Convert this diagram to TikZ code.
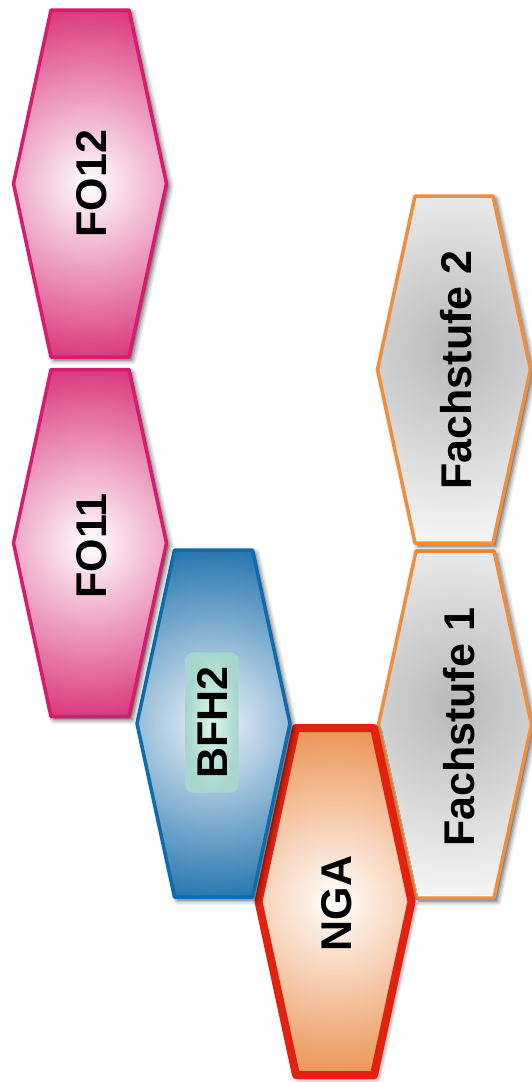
\documentclass[tikz,border=0pt]{standalone}
\usepackage{fontspec}
\setmainfont{Liberation Sans}
\usetikzlibrary{shadows.blur}
\definecolor{pinkline}{HTML}{D81B6E}
\definecolor{pinkout}{HTML}{DA3A7E}
\definecolor{pinkin}{HTML}{FFFFFF}
\definecolor{blueline}{HTML}{0B6DAD}
\definecolor{blueout}{HTML}{2877AF}
\definecolor{bluein}{HTML}{EEF3F9}
\definecolor{redline}{HTML}{E2220E}
\definecolor{orangeout}{HTML}{EB9556}
\definecolor{orangein}{HTML}{FFFFFF}
\definecolor{orangeline}{HTML}{EE8E3E}
\definecolor{grayin}{HTML}{B8B8B8}
\definecolor{grayout}{HTML}{F4F4F4}
\definecolor{tealin}{HTML}{DDF5EA}
\definecolor{tealout}{HTML}{A6D6CE}
% #1 cx, #2 cy, #3 inner colour, #4 outer colour, #5 outline style, #6 shading radius, #7 shading centre shift
\newcommand{\hexshape}[7]{%
  \path[hexshadow] (#1-39,#2-173.5) -- (#1+39,#2-173.5) -- (#1+76.5,#2)
    -- (#1+39,#2+173.5) -- (#1-39,#2+173.5) -- (#1-76.5,#2) -- cycle;
  \begin{scope}
    \clip (#1-39,#2-173.5) -- (#1+39,#2-173.5) -- (#1+76.5,#2)
      -- (#1+39,#2+173.5) -- (#1-39,#2+173.5) -- (#1-76.5,#2) -- cycle;
    \shade[inner color=#3, outer color=#4]
      (#1-#6,#2+#7-#6) rectangle (#1+#6,#2+#7+#6);
  \end{scope}
  \draw[line join=round,#5] (#1-39,#2-173.5) -- (#1+39,#2-173.5) -- (#1+76.5,#2)
    -- (#1+39,#2+173.5) -- (#1-39,#2+173.5) -- (#1-76.5,#2) -- cycle;}
\tikzset{
  hexshadow/.style={fill=white,
    blur shadow={shadow xshift=3pt, shadow yshift=-3pt,
      shadow blur radius=5pt, shadow opacity=70}},
  foline/.style={draw=pinkline, line width=3.5pt},
  blueline/.style={draw=blueline, line width=3.5pt},
  ngaline/.style={draw=redline, line width=8pt},
  fachline/.style={draw=orangeline, line width=3.5pt},
  lbl/.style={rotate=90, font=\fontsize{43}{50}\selectfont\bfseries,
    text height=31pt, text depth=0pt, inner sep=0pt},
  tealbox/.style={lbl, inner xsep=14pt, inner ysep=11pt, rounded corners=8pt,
    inner color=tealin, outer color=tealout}
}
\begin{document}
\begin{tikzpicture}[x=1pt,y=-1pt]
\useasboundingbox (0,0) rectangle (531,1082);
% right column
\hexshape{455}{724.5}{grayin}{grayout}{fachline}{190}{-20}
\node[lbl] (fs1) at (458.5,727.5) {Fachstufe 1};
\hexshape{454}{369.5}{grayin}{grayout}{fachline}{190}{-20}
\node[lbl] (fs2) at (456,370) {Fachstufe 2};
% NGA
\hexshape{335}{901.5}{orangein}{orangeout}{ngaline}{175}{0}
\node[lbl] (nga) at (336,903.5) {NGA};
% BFH2
\hexshape{213.5}{723.5}{bluein}{blueout}{blueline}{175}{0}
\node[tealbox] (bfh2) at (212,722.5) {BFH2};
% FO11, FO12
\hexshape{90}{543}{pinkin}{pinkout}{foline}{175}{0}
\node[lbl] (fo11) at (91,546) {FO11};
\hexshape{90}{183.5}{pinkin}{pinkout}{foline}{175}{0}
\node[lbl] (fo12) at (91,183.5) {FO12};
\end{tikzpicture}
\end{document}
